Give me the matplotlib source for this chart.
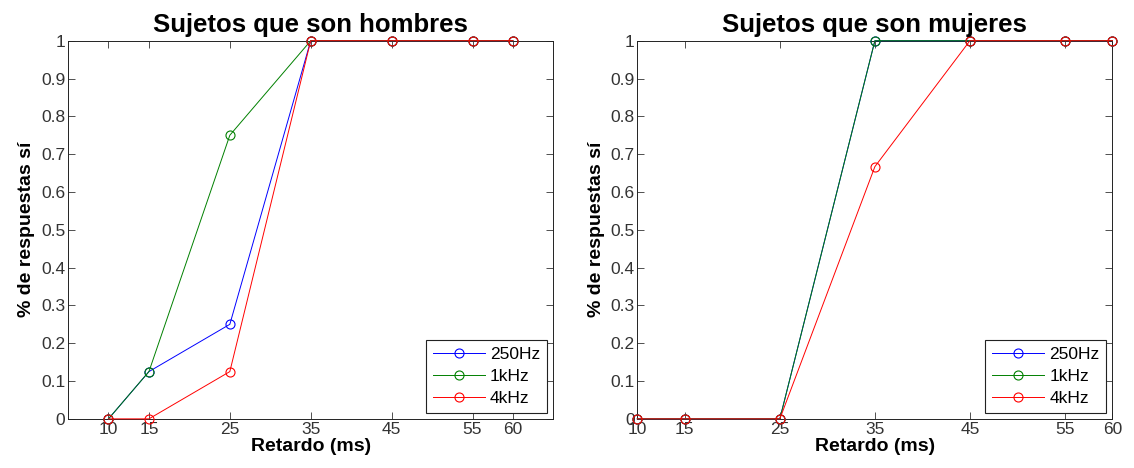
import matplotlib.pyplot as plt
import numpy as np

plt.rcParams['font.family'] = ['Liberation Sans', 'DejaVu Sans']

retardo = [10, 15, 25, 35, 45, 55, 60]
series = ['250Hz', '1kHz', '4kHz']
colores = ['#0000ff', '#008000', '#ff0000']

# hombres
h_250 = [0, 0.125, 0.25, 1, 1, 1, 1]
h_1k = [0, 0.125, 0.75, 1, 1, 1, 1]
h_4k = [0, 0, 0.125, 1, 1, 1, 1]

# mujeres
m_250 = [0, 0, 0, 1, 1, 1, 1]
m_1k = [0, 0, 0, 1, 1, 1, 1]
m_4k = [0, 0, 0, 0.667, 1, 1, 1]

titulos = ['Sujetos que son hombres', 'Sujetos que son mujeres']
datos = [[h_250, h_1k, h_4k], [m_250, m_1k, m_4k]]
xlims = [(5, 65), (10, 60)]
yticks = np.round(np.arange(0, 1.01, 0.1), 1)
ylabels = ['0'] + [f'{v:g}' for v in yticks[1:-1]] + ['1']

fig = plt.figure(figsize=(11.34, 4.68), dpi=100)
posiciones = [[0.060, 0.105, 0.428, 0.808], [0.562, 0.105, 0.419, 0.808]]

for i in range(2):
    ax = fig.add_axes(posiciones[i])
    for y, nombre, c in zip(datos[i], series, colores):
        ax.plot(retardo, y, color=c, linewidth=0.7, marker='o', markersize=6.5,
                markerfacecolor='none', markeredgewidth=0.8, label=nombre,
                clip_on=False, zorder=3)
    ax.set_xlim(*xlims[i])
    ax.set_ylim(0, 1)
    ax.set_xticks(retardo)
    ax.set_yticks(yticks)
    ax.set_yticklabels(ylabels)
    ax.tick_params(direction='in', top=True, right=True, length=5, width=0.6,
                   labelsize=12.5, colors='#333333', pad=2)
    for s in ax.spines.values():
        s.set_linewidth(0.7)
        s.set_color('#222222')
    ax.set_title(titulos[i], fontsize=18.5, fontweight='bold', pad=6)
    ax.set_xlabel('Retardo (ms)', fontsize=14, fontweight='bold', labelpad=1)
    ax.set_ylabel('% de respuestas sí', fontsize=14, fontweight='bold', labelpad=4)
    leg = ax.legend(loc='lower right', fontsize=12.5, fancybox=False, framealpha=1,
                    edgecolor='#222222', borderaxespad=0.35, handlelength=3.0,
                    labelspacing=0.4, borderpad=0.4, handletextpad=0.3)
    leg.get_frame().set_linewidth(0.8)
    leg.set_zorder(5)

fig.savefig('out.png', dpi=100)
